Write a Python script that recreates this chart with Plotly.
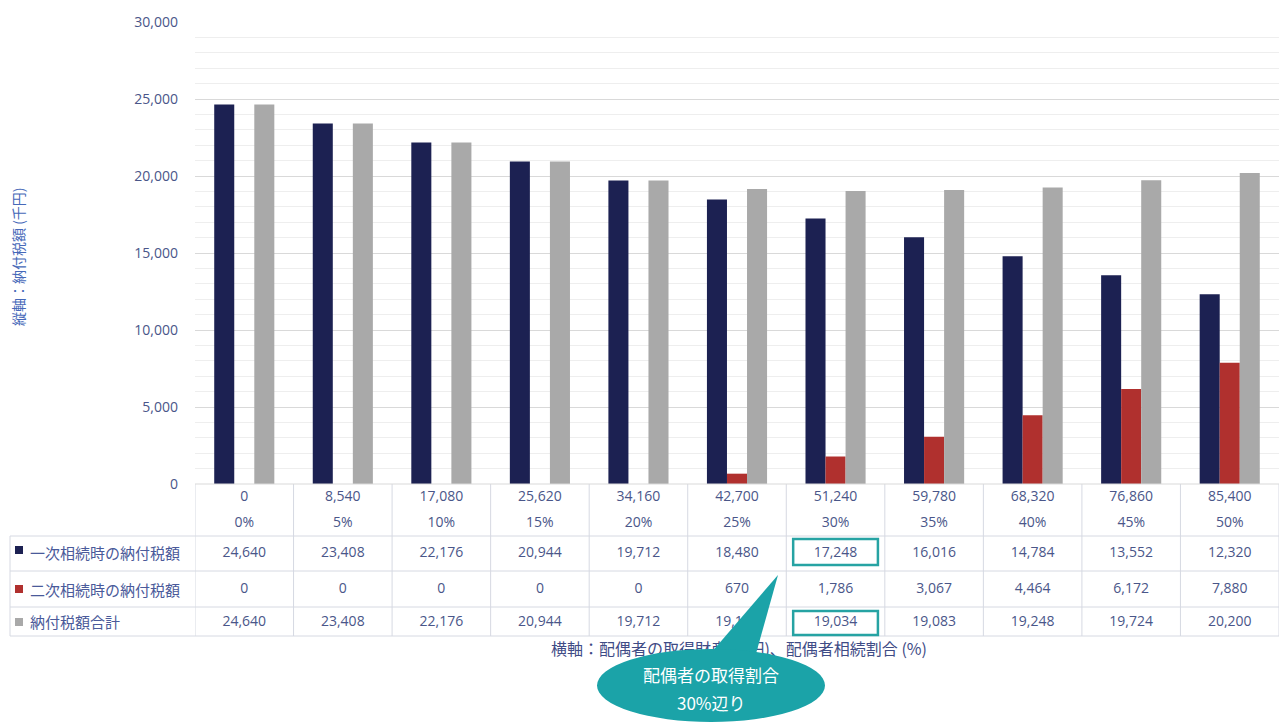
import plotly.graph_objects as go

# ---------------- data ----------------
categories = ["0", "8,540", "17,080", "25,620", "34,160", "42,700",
              "51,240", "59,780", "68,320", "76,860", "85,400"]
ratios = ["0%", "5%", "10%", "15%", "20%", "25%", "30%", "35%", "40%", "45%", "50%"]
first_tax = [24640, 23408, 22176, 20944, 19712, 18480, 17248, 16016, 14784, 13552, 12320]
second_tax = [0, 0, 0, 0, 0, 670, 1786, 3067, 4464, 6172, 7880]
total_tax = [24640, 23408, 22176, 20944, 19712, 19150, 19034, 19083, 19248, 19724, 20200]
series_names = ["一次相続時の納付税額", "二次相続時の納付税額", "納付税額合計"]
y_title = "縦軸：納付税額 (千円)"
x_title = "横軸：配偶者の取得財産(千円)、配偶者相続割合 (%)"
callout_lines = ["配偶者の取得割合", "30%辺り"]
highlight_index = 6

# ---------------- style ----------------
W, H = 1280, 724
FONT = "Open Sans, Noto Sans CJK JP"
CJK = "Noto Sans CJK JP"
TXT = "#4a5689"
GRID = "#d9d9d9"
TABLE_LINE = "#d6d9e2"
TEAL = "#1ba3a8"
colors = ["#1c2152", "#b0302e", "#a9a9a9"]

def px(x):
    return x / W

def py(y):
    return 1 - y / H

x_idx = list(range(len(categories)))
fig = go.Figure()

for name, vals, c in zip(series_names, [first_tax, second_tax, total_tax], colors):
    fig.add_trace(go.Bar(x=x_idx, y=vals, name=name, marker=dict(color=c, line=dict(width=0)),
                         showlegend=False, hoverinfo="skip"))

def fmt(v):
    return f"{v:,}"

# table text rows (bottom subplot, y in pixel rows)
rows = [
    (497, categories),
    (523, ratios),
    (553, [fmt(v) for v in first_tax]),
    (589, [fmt(v) for v in second_tax]),
    (622, [fmt(v) for v in total_tax]),
]
for ypix, texts in rows:
    fig.add_trace(go.Scatter(x=x_idx, y=[ypix] * len(x_idx), text=texts, mode="text",
                             textposition="middle center",
                             textfont=dict(family=FONT, size=14, color=TXT),
                             cliponaxis=False, showlegend=False, hoverinfo="skip",
                             xaxis="x2", yaxis="y2"))

# x axis title (drawn as text so the callout can cover it)
fig.add_trace(go.Scatter(x=[5.02], y=[651], text=[x_title], mode="text",
                         textposition="middle center",
                         textfont=dict(family=CJK, size=16, color="#3f4c86"),
                         cliponaxis=False, showlegend=False, hoverinfo="skip",
                         xaxis="x2", yaxis="y2"))

shapes = []
# table horizontal lines
for ypix in [536, 571, 607, 636]:
    shapes.append(dict(type="line", xref="paper", yref="paper", x0=px(10), x1=px(1279),
                       y0=py(ypix), y1=py(ypix), line=dict(color=TABLE_LINE, width=1), layer="above"))
# table vertical lines (category boundaries)
for b in [i - 0.5 for i in range(len(categories) + 1)]:
    shapes.append(dict(type="line", xref="x", yref="paper", x0=b, x1=b,
                       y0=py(484), y1=py(636), line=dict(color=TABLE_LINE, width=1), layer="above"))
shapes.append(dict(type="line", xref="paper", yref="paper", x0=px(10), x1=px(10),
                   y0=py(536), y1=py(636), line=dict(color=TABLE_LINE, width=1), layer="above"))
# axis base line
shapes.append(dict(type="line", xref="paper", yref="paper", x0=px(195), x1=px(1279),
                   y0=py(484), y1=py(484), line=dict(color=GRID, width=1), layer="above"))
# legend keys
for ypix, c in zip([550, 589, 622], colors):
    shapes.append(dict(type="rect", xref="paper", yref="paper", x0=px(15), x1=px(23),
                       y0=py(ypix - 4), y1=py(ypix + 4), fillcolor=c, line=dict(width=0), layer="above"))
# highlight boxes
for ytop, ybot in [(539, 565), (611, 635)]:
    shapes.append(dict(type="rect", xref="x", yref="paper",
                       x0=highlight_index - 0.43, x1=highlight_index + 0.43,
                       y0=py(ybot), y1=py(ytop), line=dict(color="#26a3a3", width=2.5),
                       fillcolor="rgba(0,0,0,0)", layer="above"))
# callout
shapes.append(dict(type="path", xref="paper", yref="paper",
                   path=f"M {px(778)},{py(575)} L {px(698)},{py(668)} L {px(752)},{py(668)} Z",
                   fillcolor=TEAL, line=dict(width=0), layer="above"))
shapes.append(dict(type="circle", xref="paper", yref="paper",
                   x0=px(597), x1=px(825), y0=py(722), y1=py(649),
                   fillcolor=TEAL, line=dict(width=0), layer="above"))

annotations = []
for ypix, name in zip([552, 589, 621], series_names):
    annotations.append(dict(xref="paper", yref="paper", x=px(28), y=py(ypix), text=name,
                            xanchor="left", yanchor="middle", showarrow=False,
                            font=dict(family=CJK, size=15, color="#4a5a9a")))
annotations.append(dict(xref="paper", yref="paper", x=px(18), y=py(257), text=y_title,
                        textangle=-90, showarrow=False, xanchor="center", yanchor="middle",
                        font=dict(family=CJK, size=14, color="#4668b8")))
for ypix, t in zip([674, 702], callout_lines):
    annotations.append(dict(xref="paper", yref="paper", x=px(711), y=py(ypix), text=t,
                            showarrow=False, xanchor="center", yanchor="middle",
                            font=dict(family=CJK, size=17, color="white")))

fig.update_layout(
    width=W, height=H,
    margin=dict(l=0, r=0, t=0, b=0, autoexpand=False),
    paper_bgcolor="white", plot_bgcolor="white",
    barmode="group", bargap=0.39, bargroupgap=0,
    font=dict(family=FONT, color=TXT),
    xaxis=dict(domain=[px(195), px(1279)], range=[-0.5, 10.5], showticklabels=False,
               showgrid=False, zeroline=False, showline=False, ticks="", fixedrange=True,
               automargin=False),
    yaxis=dict(domain=[py(484), py(22)], range=[0, 30000], dtick=5000, tickformat=",",
               showgrid=True, gridcolor=GRID, gridwidth=1, zeroline=False, showline=False,
               ticks="", ticklabelstandoff=16, tickfont=dict(family=FONT, size=14, color=TXT),
               minor=dict(dtick=1000, showgrid=True, gridcolor="#eeeeee", gridwidth=1),
               fixedrange=True, automargin=False),
    xaxis2=dict(domain=[px(195), px(1279)], range=[-0.5, 10.5], visible=False,
                anchor="y2", fixedrange=True, automargin=False),
    yaxis2=dict(domain=[0, py(484)], range=[724, 484], visible=False,
                anchor="x2", fixedrange=True, automargin=False),
    shapes=shapes,
    annotations=annotations,
)

fig.write_html("out.html")
